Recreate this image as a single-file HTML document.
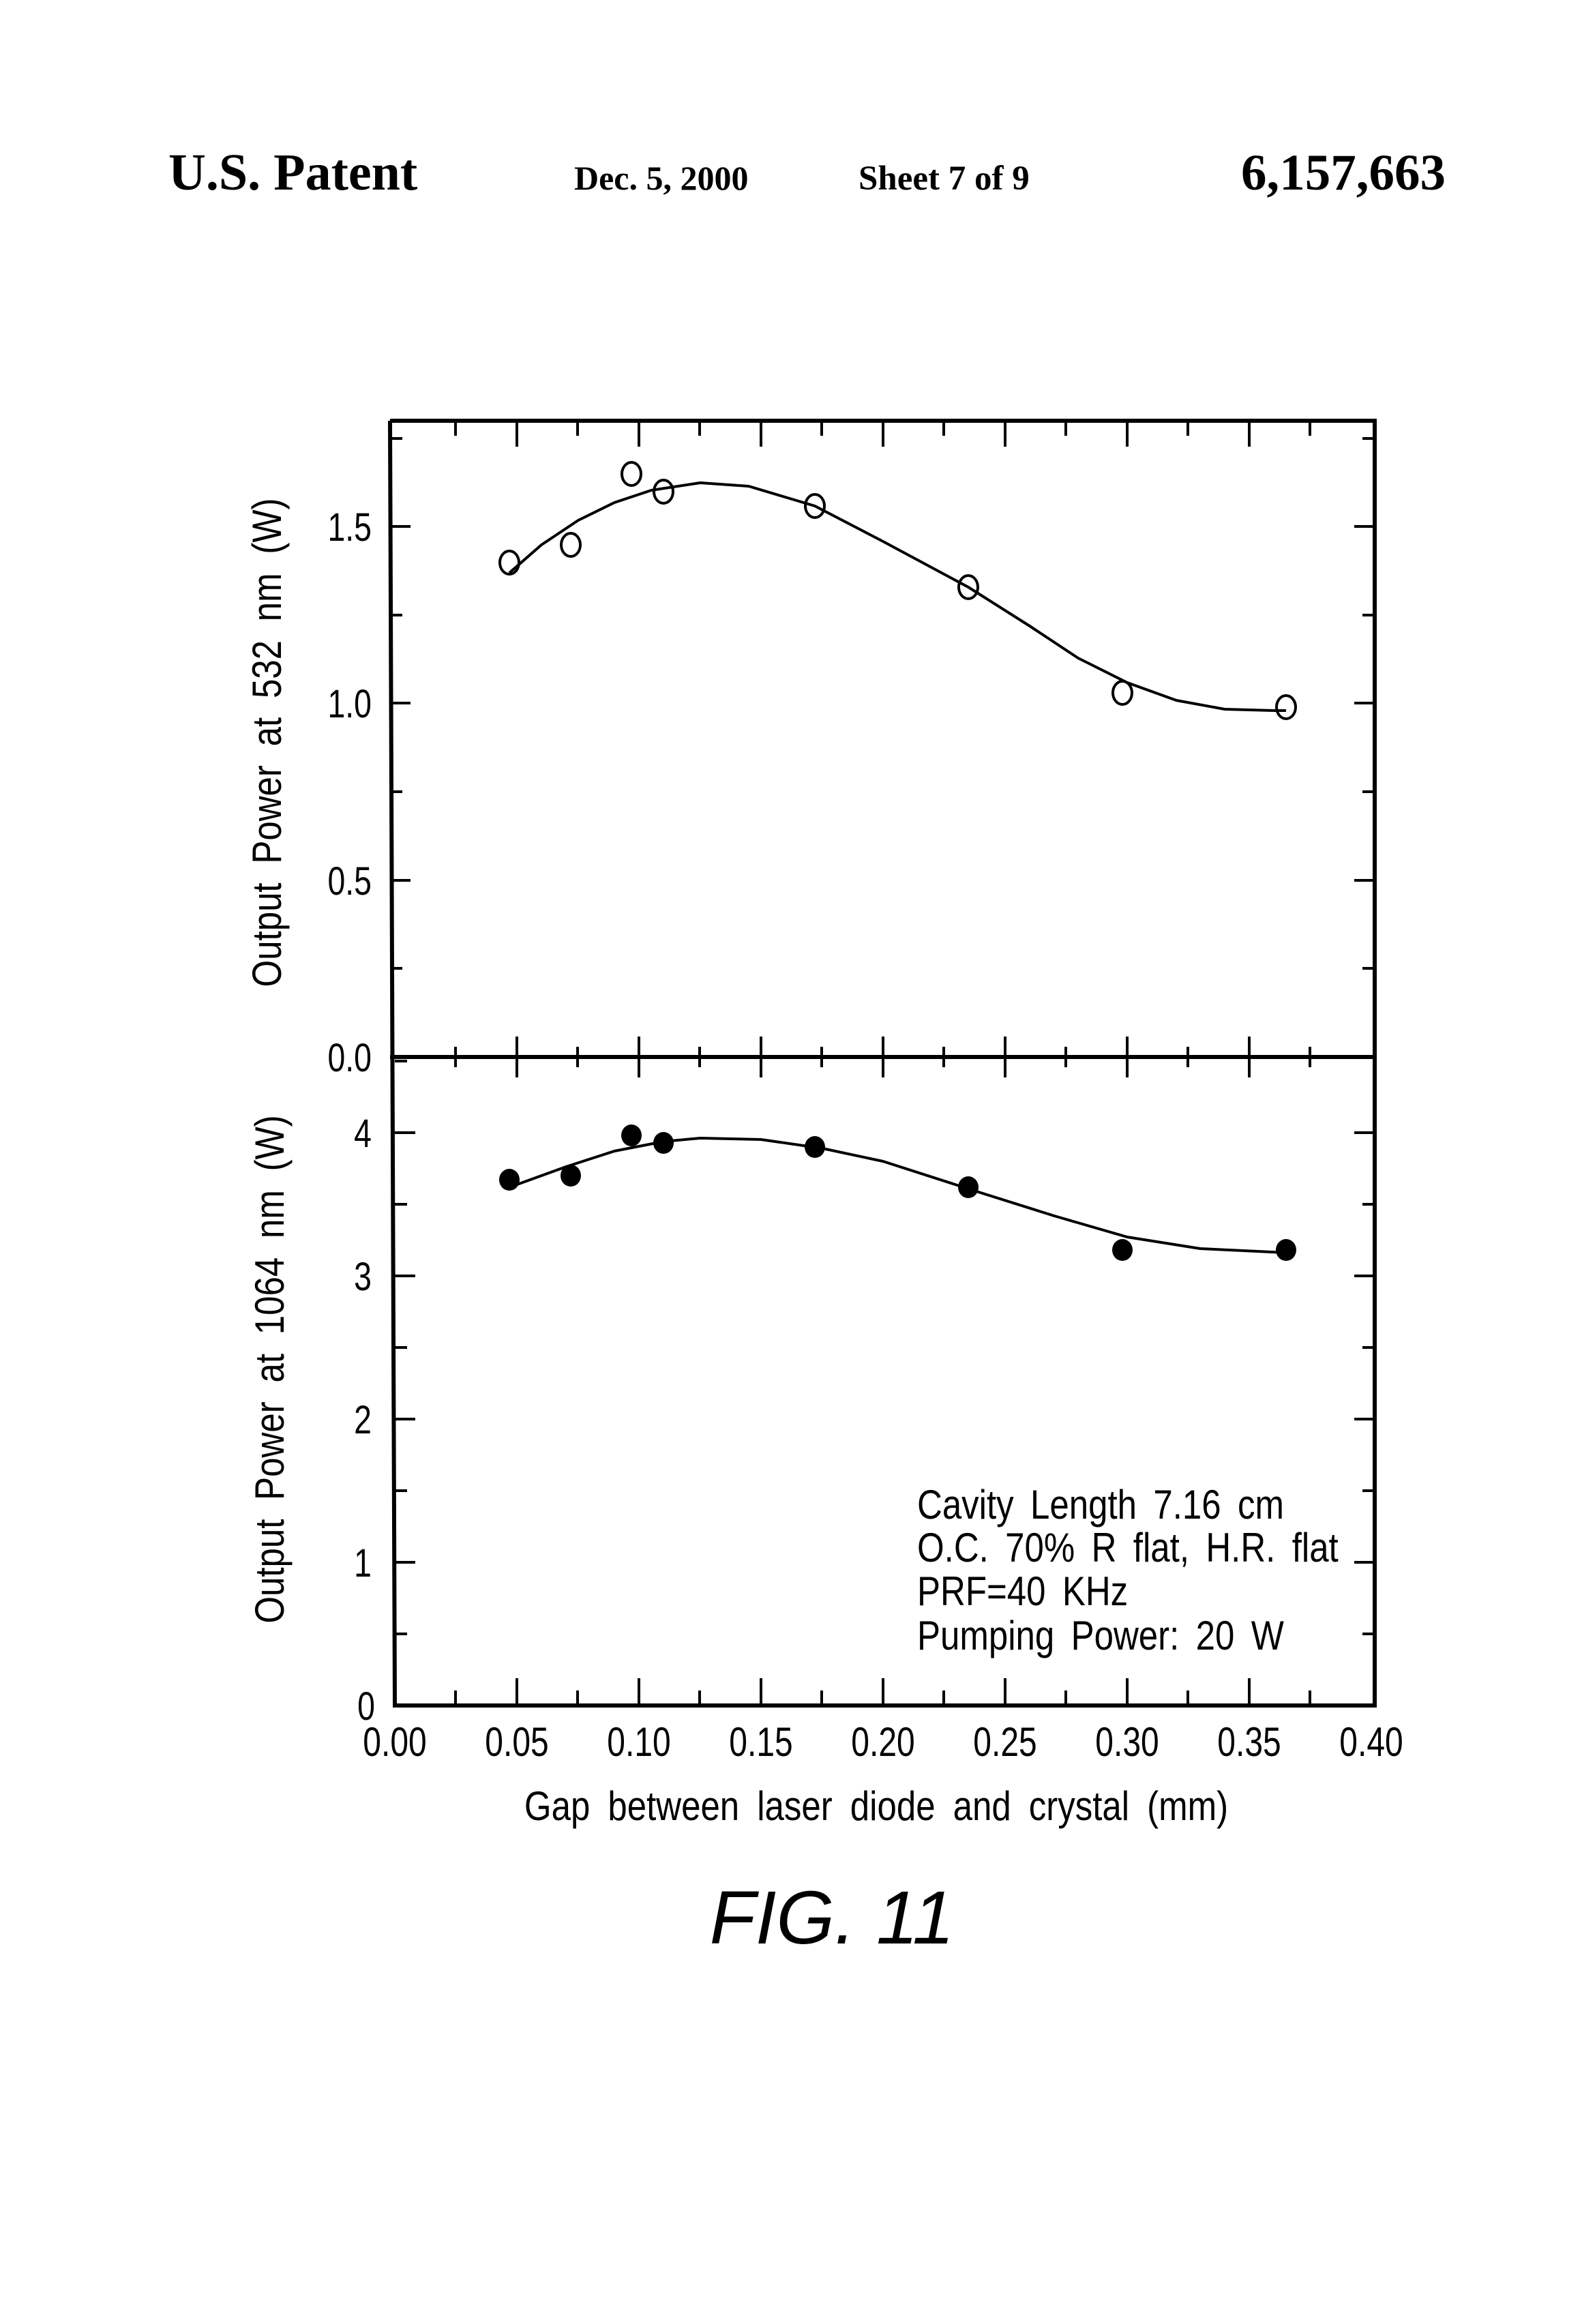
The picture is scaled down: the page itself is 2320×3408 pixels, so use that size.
<!DOCTYPE html>
<html><head><style>
html,body{margin:0;padding:0;background:#fff;}
svg{display:block;}
</style></head><body>
<svg width="2320" height="3408" viewBox="0 0 2320 3408" xmlns="http://www.w3.org/2000/svg">
<rect width="2320" height="3408" fill="#fff"/>
<g font-family="Liberation Serif, serif" font-weight="bold" fill="#000">
<text x="247" y="278" font-size="76">U.S. Patent</text>
<text x="842" y="278" font-size="50">Dec. 5, 2000</text>
<text x="1259" y="278" font-size="51">Sheet 7 of 9</text>
<text x="1820" y="278" font-size="75">6,157,663</text>
</g>
<g stroke="#000" fill="none" stroke-width="6">
<polyline points="572,617 2016,617 2016,2501 579,2501 572,617"/>
<line x1="572" y1="1550" x2="2016" y2="1550"/>
</g>
<g stroke="#000" stroke-width="4">
<path d="M668,617v22 M758,617v38 M847,617v22 M937,617v38 M1026,617v22 M1116,617v38 M1205,617v22 M1295,617v38 M1384,617v22 M1474,617v38 M1563,617v22 M1653,617v38 M1742,617v22 M1832,617v38 M1921,617v22"/>
<path d="M668,1535v30 M758,1520v60 M847,1535v30 M937,1520v60 M1026,1535v30 M1116,1520v60 M1205,1535v30 M1295,1520v60 M1384,1535v30 M1474,1520v60 M1563,1535v30 M1653,1520v60 M1742,1535v30 M1832,1520v60 M1921,1535v30"/>
<path d="M668,2501v-22 M758,2501v-40 M847,2501v-22 M937,2501v-40 M1026,2501v-22 M1116,2501v-40 M1205,2501v-22 M1295,2501v-40 M1384,2501v-22 M1474,2501v-40 M1563,2501v-22 M1653,2501v-40 M1742,2501v-22 M1832,2501v-40 M1921,2501v-22"/>
<path d="M572,1420h18 M572,1291h30 M572,1161h18 M572,1031h30 M572,902h18 M572,772h30 M572,643h18"/>
<path d="M2016,1420h-18 M2016,1291h-30 M2016,1161h-18 M2016,1031h-30 M2016,902h-18 M2016,772h-30 M2016,643h-18"/>
<path d="M579,2396h18 M579,2291h30 M579,2186h18 M579,2081h30 M579,1976h18 M579,1871h30 M579,1766h18 M579,1661h30 M579,1556h18"/>
<path d="M2016,2396h-18 M2016,2291h-30 M2016,2186h-18 M2016,2081h-30 M2016,1976h-18 M2016,1871h-30 M2016,1766h-18 M2016,1661h-30"/>
</g>
<g stroke="#000" stroke-width="4" fill="none" stroke-linejoin="round">
<polyline points="747,840 794,799 848,763 901,737 955,719 1027,708 1098,713 1195,742 1295,794 1420,861 1510,918 1581,965 1653,1001 1725,1027 1796,1040 1868,1042 1886,1042"/>
<polyline points="747,1741 830,1711 901,1688 973,1674 1027,1669 1116,1671 1206,1684 1295,1703 1438,1749 1546,1783 1653,1814 1760,1831 1886,1837"/>
<ellipse cx="747" cy="825" rx="14" ry="17"/>
<ellipse cx="837" cy="799" rx="14" ry="17"/>
<ellipse cx="926" cy="695" rx="14" ry="17"/>
<ellipse cx="973" cy="721" rx="14" ry="17"/>
<ellipse cx="1195" cy="742" rx="14" ry="17"/>
<ellipse cx="1420" cy="861" rx="14" ry="17"/>
<ellipse cx="1646" cy="1016" rx="14" ry="17"/>
<ellipse cx="1886" cy="1037" rx="14" ry="17"/>
</g>
<g fill="#000">
<ellipse cx="747" cy="1730" rx="15" ry="16"/>
<ellipse cx="837" cy="1724" rx="15" ry="16"/>
<ellipse cx="926" cy="1665" rx="15" ry="16"/>
<ellipse cx="973" cy="1676" rx="15" ry="16"/>
<ellipse cx="1195" cy="1682" rx="15" ry="16"/>
<ellipse cx="1420" cy="1741" rx="15" ry="16"/>
<ellipse cx="1646" cy="1833" rx="15" ry="16"/>
<ellipse cx="1886" cy="1833" rx="15" ry="16"/>
</g>
<g font-family="Liberation Sans, sans-serif" font-size="58" fill="#000" text-anchor="end">
<text transform="translate(545,793) scale(0.8,1)">1.5</text>
<text transform="translate(545,1052) scale(0.8,1)">1.0</text>
<text transform="translate(545,1312) scale(0.8,1)">0.5</text>
<text transform="translate(545,1571) scale(0.8,1)">0.0</text>
<text transform="translate(545,1682) scale(0.8,1)">4</text>
<text transform="translate(545,1892) scale(0.8,1)">3</text>
<text transform="translate(545,2102) scale(0.8,1)">2</text>
<text transform="translate(545,2312) scale(0.8,1)">1</text>
<text transform="translate(550,2522) scale(0.8,1)">0</text>
</g>
<g font-family="Liberation Sans, sans-serif" font-size="60" fill="#000" text-anchor="middle">
<text transform="translate(579,2575) scale(0.8,1)">0.00</text>
<text transform="translate(758,2575) scale(0.8,1)">0.05</text>
<text transform="translate(937,2575) scale(0.8,1)">0.10</text>
<text transform="translate(1116,2575) scale(0.8,1)">0.15</text>
<text transform="translate(1295,2575) scale(0.8,1)">0.20</text>
<text transform="translate(1474,2575) scale(0.8,1)">0.25</text>
<text transform="translate(1653,2575) scale(0.8,1)">0.30</text>
<text transform="translate(1832,2575) scale(0.8,1)">0.35</text>
<text transform="translate(2011,2575) scale(0.8,1)">0.40</text>
<text transform="translate(1285,2669) scale(0.85,1)" word-spacing="14">Gap between laser diode and crystal (mm)</text>
<text transform="translate(412,1089) rotate(-90) scale(0.85,1)" word-spacing="16">Output Power at 532 nm (W)</text>
<text transform="translate(416,2008) rotate(-90) scale(0.85,1)" word-spacing="16">Output Power at 1064 nm (W)</text>
</g>
<g font-family="Liberation Sans, sans-serif" font-size="60" fill="#000" word-spacing="12">
<text transform="translate(1345,2227) scale(0.85,1)">Cavity Length 7.16 cm</text>
<text transform="translate(1345,2290) scale(0.85,1)">O.C. 70% R flat, H.R. flat</text>
<text transform="translate(1345,2354) scale(0.85,1)">PRF=40 KHz</text>
<text transform="translate(1345,2419) scale(0.85,1)">Pumping Power: 20 W</text>
</g>
<text x="1220" y="2850" font-family="Liberation Sans, sans-serif" font-style="italic" font-size="110" text-anchor="middle" fill="#000">FIG. 11</text>
</svg>
</body></html>
